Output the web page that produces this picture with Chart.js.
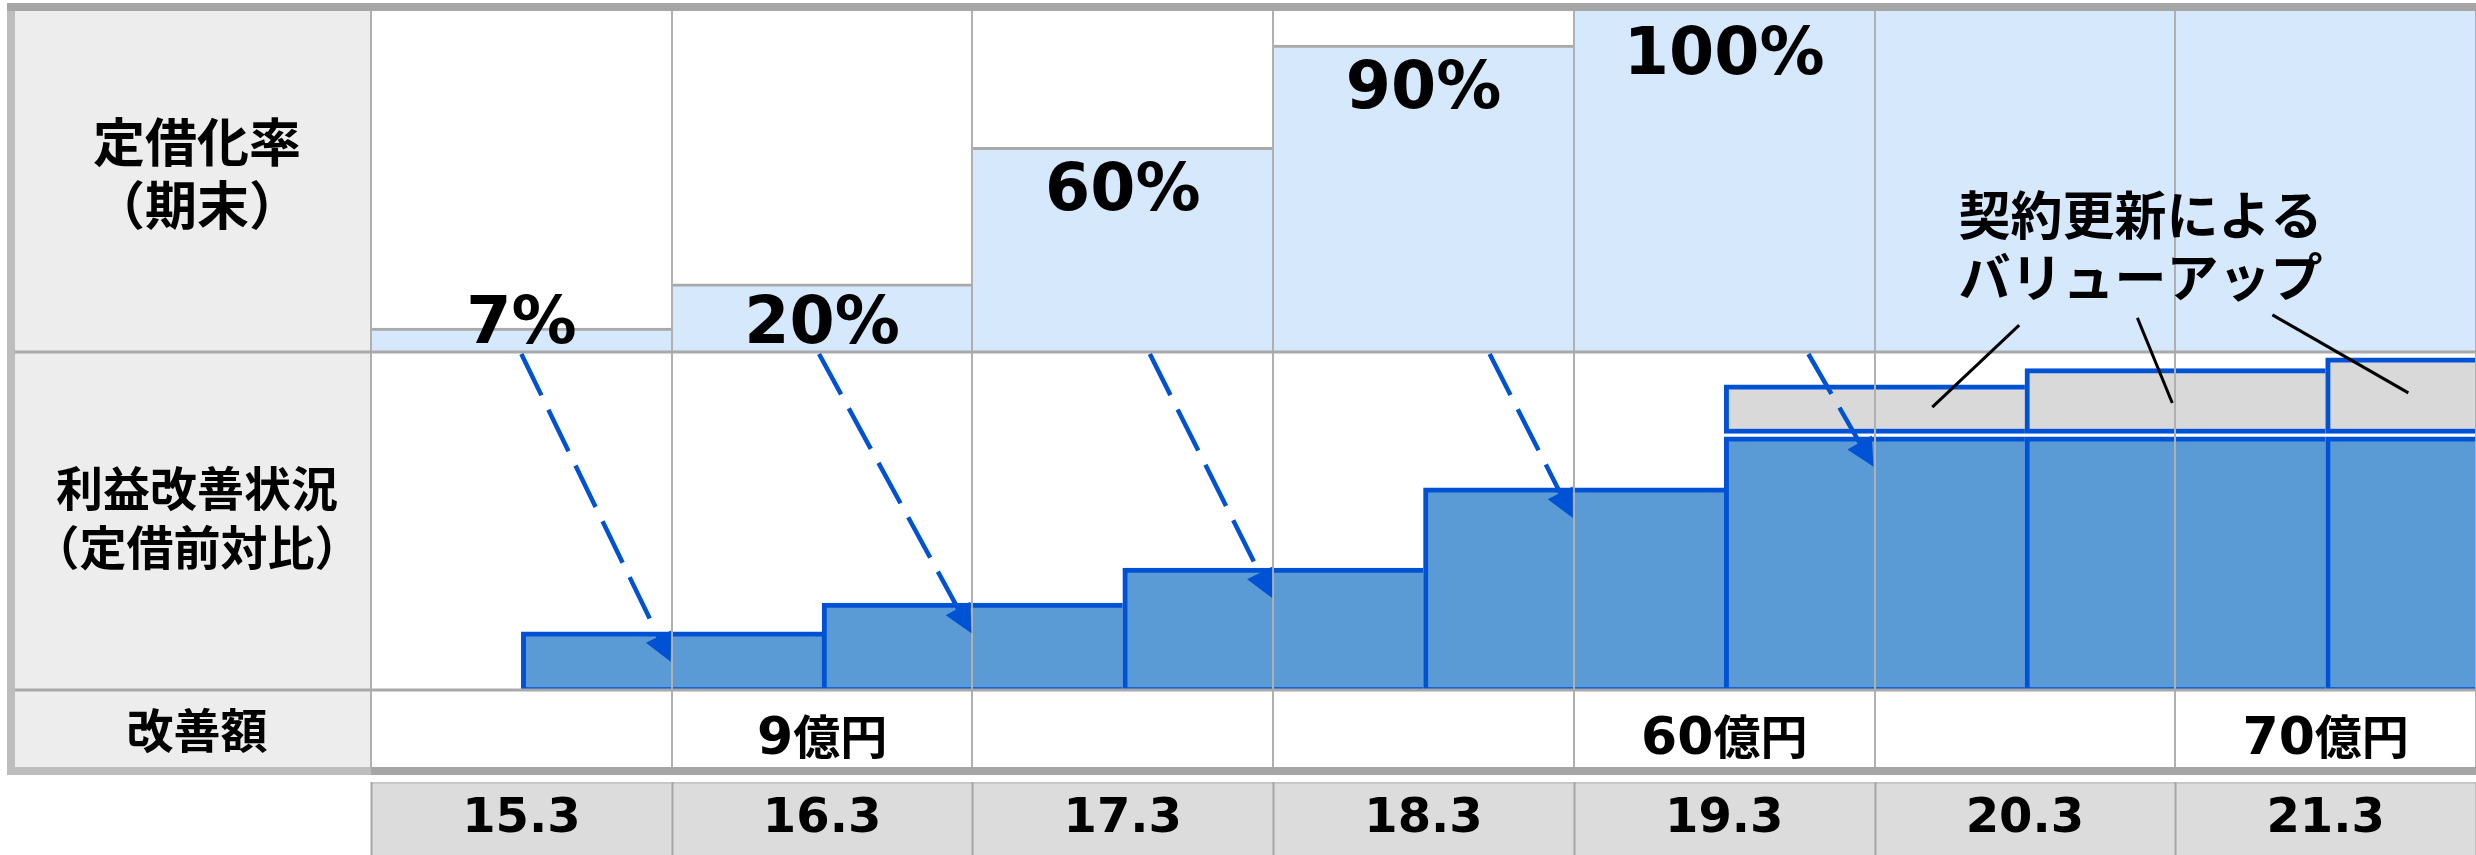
<!DOCTYPE html>
<html lang="ja">
<head>
<meta charset="utf-8">
<title>定借化率と利益改善状況</title>
<script src="https://cdn.jsdelivr.net/npm/chart.js@4.4.1/dist/chart.umd.min.js"></script>
<style>
  html, body { margin: 0; padding: 0; background: #fff; overflow: hidden; }
  #board { display: block; }
</style>
</head>
<body>
<canvas id="board" width="2476" height="855"></canvas>
<script>
// ---- data ---------------------------------------------------------------
// fiscal year ends shown along the bottom
const fiscalYears = ['15.3', '16.3', '17.3', '18.3', '19.3', '20.3', '21.3'];
// 定借化率（期末）, percent
const fixedLeaseRate = [7, 20, 60, 90, 100, 100, 100];
// 利益改善状況（定借前対比）: improvement index per period (0-100 scale)
const profitBase = [17.2, 25.7, 36.1, 59.8, 74.9, 74.9, 74.9];
// extra uplift from contract renewals, same index scale
const renewalUplift = [null, null, null, null, 14.4, 19.2, 22.4];
// 改善額, 億円
const improvementAmount = [null, 9, null, null, 60, null, 70];
const amountUnit = '億円';
// row titles of the table
const rowTitles = [['定借化率', '（期末）'], ['利益改善状況', '（定借前対比）'], ['改善額']];
const renewalNote = ['契約更新による', 'バリューアップ'];

// ---- styles and layout --------------------------------------------------
const COLORS = {
  rateFill: '#d5e8fc', rateEdge: '#a9a9a9',
  profitFill: '#5b9bd5', profitEdge: '#0052d4',
  upliftFill: '#d9d9d9',
  grid: '#b0b0b0', rowLine: '#a9a9a9',
  frame: '#a6a6a6', frameLight: '#bdbdbd',
  titleBg: '#ededed', yearBg: '#dcdcdc', yearTop: '#c8c8c8',
  text: '#000000', leader: '#000000'
};
const FRAME = { left: 7, top: 3, width: 8, yearGap: 7 };
const ROW_WEIGHTS = { rate: 341, profit: 338, amount: 77 };
const RATE_MAX = 100;
const UPLIFT_GAP = 1;             // index units of white space between base bar and uplift bar
const CJK = '"Noto Sans CJK JP", "Noto Sans CJK SC", sans-serif';
const LATIN = '"DejaVu Sans", "Noto Sans CJK JP", sans-serif';

const titleStyle = [
  { size: 52, gap: 63.5, shift: -8 },
  { size: 47, gap: 59, shift: -3.5 },
  { size: 47, gap: 0, shift: 1.5 }
];
// dashed arrows from each new rate to the period bar it feeds
const arrowStyle = {
  startShift: [0.0, -0.01, 0.09, 0.22, 0.28],   // column units from column centre
  tipDrop: 30, dash: [46, 16], width: 4.5, headLength: 28, headHalf: 14
};
// call-out for the renewal uplift (x in column units, y in row units)
const noteAnchor = { x: 5.884, y: 40, lineGap: 62, size: 52 };
const leaderLines = [
  { from: [5.481, 7.9], to: [5.192, 83.7] },
  { from: [5.874, 10.0], to: [5.990, 84.9] },
  { from: [6.323, 10.9], to: [6.775, 87.9] }
];

// ---- datasets -------------------------------------------------------------
// every bar fills its whole slot, so no side-by-side grouping is used
const rateDataset = {
  label: '定借化率',
  data: fixedLeaseRate,
  xAxisID: 'x', yAxisID: 'yRate',
  backgroundColor: COLORS.rateFill,
  borderColor: COLORS.rateEdge,
  // the top edge of a full bar sits under the table frame
  borderWidth: (c) => ({ top: c.raw >= RATE_MAX ? 0 : 3, right: 0, bottom: 0, left: 0 }),
  borderSkipped: false,
  barPercentage: 1, categoryPercentage: 1, grouped: false
};
const baseDataset = {
  label: '利益改善状況',
  data: profitBase.map((v, i) => ({ x: i + 1, y: v })),
  xAxisID: 'xPeriod', yAxisID: 'yProfit',
  backgroundColor: COLORS.profitFill,
  borderColor: COLORS.profitEdge,
  borderWidth: { top: 5, right: 0, bottom: 3, left: 5 },
  borderSkipped: false,
  barPercentage: 1, categoryPercentage: 1, grouped: false
};
const upliftDataset = {
  label: '契約更新によるバリューアップ',
  data: renewalUplift
    .map((u, i) => (u == null ? null : { x: i + 1, y: [profitBase[i] + UPLIFT_GAP, profitBase[i] + UPLIFT_GAP + u] }))
    .filter(Boolean),
  xAxisID: 'xPeriod', yAxisID: 'yProfit',
  backgroundColor: COLORS.upliftFill,
  borderColor: COLORS.profitEdge,
  borderWidth: { top: 5, right: 0, bottom: 5, left: 5 },
  borderSkipped: false,
  barPercentage: 1, categoryPercentage: 1, grouped: false
};

// ---- table decorations ------------------------------------------------------
function drawArrow(ctx, x0, y0, x1, y1) {
  const len = Math.hypot(x1 - x0, y1 - y0);
  const ux = (x1 - x0) / len, uy = (y1 - y0) / len;
  const bx = x1 - ux * arrowStyle.headLength, by = y1 - uy * arrowStyle.headLength;
  ctx.setLineDash(arrowStyle.dash);
  ctx.beginPath();
  ctx.moveTo(x0, y0);
  ctx.lineTo(bx + ux * 4, by + uy * 4);
  ctx.stroke();
  ctx.setLineDash([]);
  ctx.beginPath();
  ctx.moveTo(x1, y1);
  ctx.lineTo(bx - uy * arrowStyle.headHalf, by + ux * arrowStyle.headHalf);
  ctx.lineTo(bx + uy * arrowStyle.headHalf, by - ux * arrowStyle.headHalf);
  ctx.closePath();
  ctx.fill();
}

const tablePlugin = {
  id: 'leaseTable',
  beforeDraw(chart) {
    const { ctx, chartArea: ca, scales } = chart;
    const xs = scales.x;
    const half = (xs.getPixelForValue(1) - xs.getPixelForValue(0)) / 2;
    const inner = FRAME.left + FRAME.width;
    ctx.save();
    ctx.fillStyle = '#ffffff';
    ctx.fillRect(0, 0, chart.width, chart.height);
    // title column
    ctx.fillStyle = COLORS.titleBg;
    ctx.fillRect(inner, ca.top, ca.left - inner, ca.bottom - ca.top);
    // year header cells
    const cellTop = ca.bottom + FRAME.width + FRAME.yearGap;
    ctx.fillStyle = COLORS.yearBg;
    ctx.fillRect(ca.left, cellTop, ca.right - ca.left, chart.height - cellTop);
    ctx.fillStyle = COLORS.yearTop;
    ctx.fillRect(ca.left, cellTop, ca.right - ca.left, 2);
    ctx.strokeStyle = COLORS.frame;
    ctx.lineWidth = 2;
    for (let i = 0; i <= fiscalYears.length; i++) {
      const bx = Math.round(xs.getPixelForValue(0) - half + i * 2 * half) + 0.5;
      ctx.beginPath();
      ctx.moveTo(bx, cellTop);
      ctx.lineTo(bx, chart.height);
      ctx.stroke();
    }
    ctx.restore();
  },
  afterDraw(chart) {
    const { ctx, chartArea: ca, scales } = chart;
    const xs = scales.x, xp = scales.xPeriod;
    const yr = scales.yRate, yp = scales.yProfit, ya = scales.yAmount;
    const inner = FRAME.left + FRAME.width;
    ctx.save();

    // row separators
    ctx.fillStyle = COLORS.rowLine;
    ctx.fillRect(inner, yr.bottom - 1.5, chart.width - inner, 3);
    ctx.fillRect(inner, yp.bottom - 1.5, chart.width - inner, 3);

    // outer frame
    ctx.fillStyle = COLORS.frame;
    ctx.fillRect(FRAME.left, FRAME.top, chart.width - FRAME.left, FRAME.width);
    ctx.fillRect(ca.left, ca.bottom, chart.width - ca.left, FRAME.width);
    ctx.fillStyle = COLORS.frameLight;
    ctx.fillRect(FRAME.left, ca.bottom, ca.left - FRAME.left, FRAME.width);
    ctx.fillRect(FRAME.left, FRAME.top + FRAME.width, FRAME.width, ca.bottom - FRAME.top - FRAME.width);

    // row titles
    ctx.fillStyle = COLORS.text;
    ctx.textAlign = 'center';
    ctx.textBaseline = 'alphabetic';
    const titleX = (inner + ca.left) / 2 + 4;
    [yr, yp, ya].forEach((axis, r) => {
      const st = titleStyle[r];
      const lines = rowTitles[r];
      const mid = (axis.top + axis.bottom) / 2 + st.shift;
      ctx.font = `bold ${st.size}px ${CJK}`;
      lines.forEach((t, k) => {
        const cy = mid + (k - (lines.length - 1) / 2) * st.gap;
        ctx.fillText(t, titleX, cy + 0.38 * st.size);
      });
    });

    // rate labels, only where the rate changes
    ctx.font = `bold 65px ${LATIN}`;
    fixedLeaseRate.forEach((v, i) => {
      if (i > 0 && v === fixedLeaseRate[i - 1]) return;
      const top = yr.getPixelForValue(v);
      const base = Math.min(top + 63, yr.bottom - 9);
      ctx.fillText(`${v}%`, xs.getPixelForValue(i), base);
    });

    // 改善額 values
    const amountBase = (ya.top + ya.bottom) / 2 + 25;
    const numFont = `bold 52px ${LATIN}`;
    const unitFont = `bold 47px ${CJK}`;
    ctx.textAlign = 'left';
    improvementAmount.forEach((v, i) => {
      if (v == null) return;
      const num = String(v);
      ctx.font = numFont;
      const wn = ctx.measureText(num).width;
      ctx.font = unitFont;
      const wu = ctx.measureText(amountUnit).width;
      const left = xs.getPixelForValue(i) - (wn + wu) / 2;
      ctx.font = numFont;
      ctx.fillText(num, left, amountBase);
      ctx.font = unitFont;
      ctx.fillText(amountUnit, left + wn, amountBase);
    });

    // dashed arrows: new rate -> profit bar of the following period
    ctx.strokeStyle = COLORS.profitEdge;
    ctx.fillStyle = COLORS.profitEdge;
    ctx.lineWidth = arrowStyle.width;
    arrowStyle.startShift.forEach((s, i) => {
      const x0 = xp.getPixelForValue(i + 0.5 + s);
      const y0 = yr.bottom + 2;
      const x1 = xp.getPixelForValue(i + 1) - 1;
      const y1 = yp.getPixelForValue(profitBase[i]) + arrowStyle.tipDrop;
      drawArrow(ctx, x0, y0, x1, y1);
    });

    // renewal call-out
    ctx.strokeStyle = COLORS.leader;
    ctx.lineWidth = 3;
    leaderLines.forEach(l => {
      ctx.beginPath();
      ctx.moveTo(xp.getPixelForValue(l.from[0]), yr.getPixelForValue(l.from[1]));
      ctx.lineTo(xp.getPixelForValue(l.to[0]), yp.getPixelForValue(l.to[1]));
      ctx.stroke();
    });
    ctx.fillStyle = COLORS.text;
    ctx.textAlign = 'center';
    ctx.font = `bold ${noteAnchor.size}px ${CJK}`;
    const nx = xp.getPixelForValue(noteAnchor.x);
    const ny = yr.getPixelForValue(noteAnchor.y);
    renewalNote.forEach((t, k) => {
      ctx.fillText(t, nx, ny + k * noteAnchor.lineGap + 0.38 * noteAnchor.size);
    });

    ctx.restore();
  }
};

// ---- chart ----------------------------------------------------------------
new Chart(document.getElementById('board'), {
  type: 'bar',
  data: { labels: fiscalYears, datasets: [rateDataset, baseDataset, upliftDataset] },
  options: {
    responsive: false,
    animation: false,
    devicePixelRatio: 1,
    events: [],
    layout: { padding: { left: 371, top: 11, right: 0, bottom: 0 } },
    plugins: { legend: { display: false }, tooltip: { enabled: false }, title: { display: false } },
    scales: {
      x: {
        type: 'category', position: 'bottom', offset: true,
        grid: { display: true, offset: true, color: COLORS.grid, lineWidth: 2, drawTicks: false, z: 1 },
        border: { display: false },
        ticks: {
          color: COLORS.text, padding: 24, autoSkip: false, maxRotation: 0,
          font: { family: '"DejaVu Sans"', size: 48, weight: 'bold' }
        },
        afterFit(scale) { scale.height = 88; }
      },
      xPeriod: { type: 'linear', position: 'bottom', min: 0, max: 7, offset: false, display: false, ticks: { stepSize: 1 } },
      // stacked rows, listed bottom-up
      yAmount: { type: 'linear', position: 'left', stack: 'rows', stackWeight: ROW_WEIGHTS.amount, min: 0, max: 1, display: false },
      yProfit: { type: 'linear', position: 'left', stack: 'rows', stackWeight: ROW_WEIGHTS.profit, min: 0, max: 100, display: false },
      yRate: { type: 'linear', position: 'left', stack: 'rows', stackWeight: ROW_WEIGHTS.rate, min: 0, max: RATE_MAX, display: false }
    }
  },
  plugins: [tablePlugin]
});
</script>
</body>
</html>
